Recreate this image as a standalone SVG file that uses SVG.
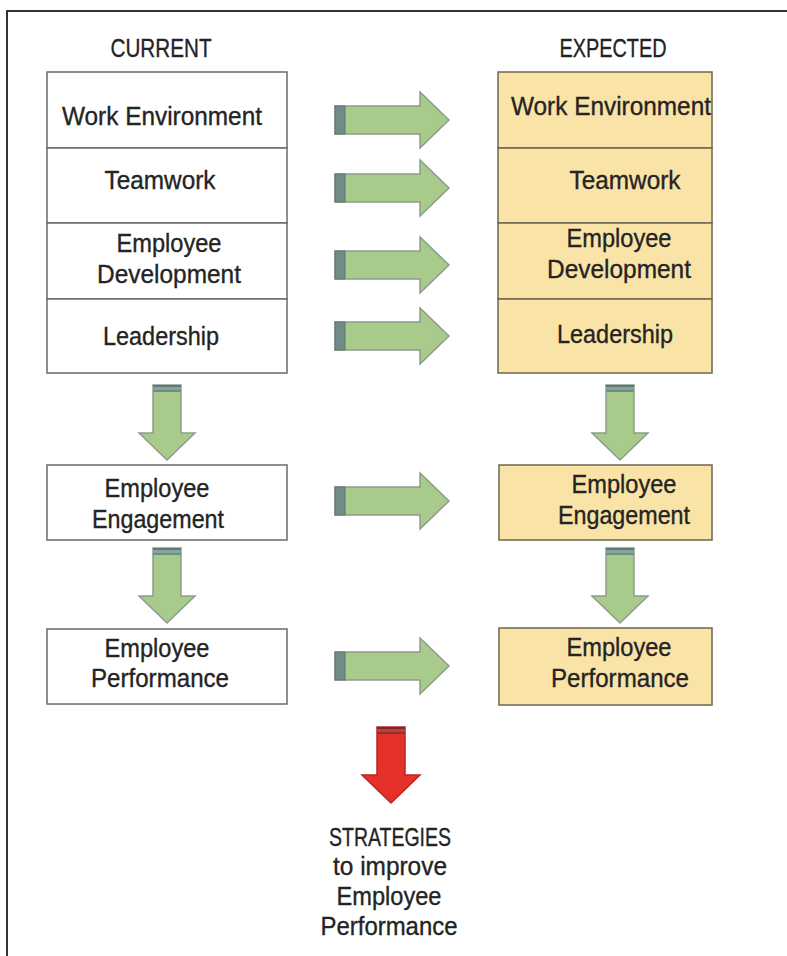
<svg xmlns="http://www.w3.org/2000/svg" width="787" height="956" viewBox="0 0 787 956">
  <style>
    .lbl { font-family: "Liberation Sans", Arial, sans-serif; font-size: 26px; fill: #242424; stroke: #242424; stroke-width: 0.35; text-anchor: middle; }
    .cur { fill: #ffffff; stroke: #6a6a6a; stroke-width: 1.5; }
    .exp { fill: #fae3a6; stroke: #6e6650; stroke-width: 1.5; }
    .green { fill: #a8ca8b; stroke: #8e9c8c; stroke-width: 1.5; stroke-linejoin: miter; }
    .red { fill: #e6302a; stroke: #b92524; stroke-width: 1.5; }
  </style>
  <defs>
    <!-- right-pointing block arrow, origin at tail centre -->
    <g id="arrowRight">
      <path class="green" d="M0,-14 H85 V-28 L114,0 L85,28 V14 H0 Z"/>
      <rect x="0" y="-14" width="10" height="28" fill="#6f8c87" stroke="#5e7673" stroke-width="1"/>
    </g>
    <!-- down-pointing block arrow, origin at tail centre -->
    <g id="arrowDown">
      <path class="green" d="M-14,0 H14 V48 H28 L0,75 L-28,48 H-14 Z"/>
      <rect x="-14" y="0" width="28" height="7" fill="#86a39d"/>
      <rect x="-14" y="0" width="28" height="2" fill="#5f7a76"/>
      <rect x="-14" y="5" width="28" height="2" fill="#6f8c87"/>
    </g>
  </defs>

  <rect width="787" height="956" fill="#ffffff"/>
  <!-- outer frame (top and left edges) -->
  <path d="M7,956 V11 H787" fill="none" stroke="#333333" stroke-width="2"/>

  <!-- column headings -->
  <text class="lbl" x="161" y="57" textLength="101" lengthAdjust="spacingAndGlyphs">CURRENT</text>
  <text class="lbl" x="613" y="57" textLength="107" lengthAdjust="spacingAndGlyphs">EXPECTED</text>

  <!-- current state -->
  <g id="cur-work-environment">
    <rect class="cur" x="47" y="72" width="240" height="76"/>
    <text class="lbl" x="162" y="125" textLength="200" lengthAdjust="spacingAndGlyphs">Work Environment</text>
  </g>
  <g id="cur-teamwork">
    <rect class="cur" x="47" y="148" width="240" height="75"/>
    <text class="lbl" x="160" y="189" textLength="111" lengthAdjust="spacingAndGlyphs">Teamwork</text>
  </g>
  <g id="cur-employee-development">
    <rect class="cur" x="47" y="223" width="240" height="76"/>
    <text class="lbl" x="169" y="252" textLength="105" lengthAdjust="spacingAndGlyphs">Employee</text>
    <text class="lbl" x="169" y="283" textLength="144" lengthAdjust="spacingAndGlyphs">Development</text>
  </g>
  <g id="cur-leadership">
    <rect class="cur" x="47" y="299" width="240" height="74"/>
    <text class="lbl" x="161" y="345" textLength="116" lengthAdjust="spacingAndGlyphs">Leadership</text>
  </g>
  <g id="cur-employee-engagement">
    <rect class="cur" x="47" y="465" width="240" height="75"/>
    <text class="lbl" x="157" y="497" textLength="105" lengthAdjust="spacingAndGlyphs">Employee</text>
    <text class="lbl" x="158" y="528" textLength="132" lengthAdjust="spacingAndGlyphs">Engagement</text>
  </g>
  <g id="cur-employee-performance">
    <rect class="cur" x="47" y="629" width="240" height="75"/>
    <text class="lbl" x="157" y="657" textLength="105" lengthAdjust="spacingAndGlyphs">Employee</text>
    <text class="lbl" x="160" y="687" textLength="138" lengthAdjust="spacingAndGlyphs">Performance</text>
  </g>

  <!-- expected state -->
  <g id="exp-work-environment">
    <rect class="exp" x="498" y="72" width="214" height="76"/>
    <text class="lbl" x="611" y="115" textLength="200" lengthAdjust="spacingAndGlyphs">Work Environment</text>
  </g>
  <g id="exp-teamwork">
    <rect class="exp" x="498" y="148" width="214" height="75"/>
    <text class="lbl" x="625" y="189" textLength="111" lengthAdjust="spacingAndGlyphs">Teamwork</text>
  </g>
  <g id="exp-employee-development">
    <rect class="exp" x="498" y="223" width="214" height="76"/>
    <text class="lbl" x="619" y="247" textLength="105" lengthAdjust="spacingAndGlyphs">Employee</text>
    <text class="lbl" x="619" y="278" textLength="144" lengthAdjust="spacingAndGlyphs">Development</text>
  </g>
  <g id="exp-leadership">
    <rect class="exp" x="498" y="299" width="214" height="74"/>
    <text class="lbl" x="615" y="343" textLength="116" lengthAdjust="spacingAndGlyphs">Leadership</text>
  </g>
  <g id="exp-employee-engagement">
    <rect class="exp" x="499" y="465" width="213" height="75"/>
    <text class="lbl" x="624" y="493" textLength="105" lengthAdjust="spacingAndGlyphs">Employee</text>
    <text class="lbl" x="624" y="524" textLength="132" lengthAdjust="spacingAndGlyphs">Engagement</text>
  </g>
  <g id="exp-employee-performance">
    <rect class="exp" x="499" y="628" width="213" height="77"/>
    <text class="lbl" x="619" y="656" textLength="105" lengthAdjust="spacingAndGlyphs">Employee</text>
    <text class="lbl" x="620" y="687" textLength="138" lengthAdjust="spacingAndGlyphs">Performance</text>
  </g>

  <!-- outcome label -->
  <g id="strategies">
    <text class="lbl" x="390" y="846" textLength="122" lengthAdjust="spacingAndGlyphs">STRATEGIES</text>
    <text class="lbl" x="390" y="875" textLength="114" lengthAdjust="spacingAndGlyphs">to improve</text>
    <text class="lbl" x="389" y="905" textLength="105" lengthAdjust="spacingAndGlyphs">Employee</text>
    <text class="lbl" x="389" y="935" textLength="137" lengthAdjust="spacingAndGlyphs">Performance</text>
  </g>

  <!-- connectors -->
  <g id="connectors">
    <use href="#arrowRight" x="335" y="120"/>
    <use href="#arrowRight" x="335" y="188"/>
    <use href="#arrowRight" x="335" y="265"/>
    <use href="#arrowRight" x="335" y="336"/>
    <use href="#arrowRight" x="335" y="501"/>
    <use href="#arrowRight" x="335" y="666"/>

    <use href="#arrowDown" x="167" y="385"/>
    <use href="#arrowDown" x="167" y="548"/>
    <use href="#arrowDown" x="620" y="385"/>
    <use href="#arrowDown" x="620" y="548"/>

    <g transform="translate(391,727)">
      <path class="red" d="M-14,0 H14 V48 H29 L0,76 L-29,48 H-14 Z"/>
      <rect x="-14" y="0" width="28" height="7" fill="#c0403c"/>
      <rect x="-14" y="0" width="28" height="2" fill="#7a2b2e"/>
      <rect x="-14" y="5" width="28" height="2" fill="#8c2f30"/>
    </g>
  </g>
</svg>
